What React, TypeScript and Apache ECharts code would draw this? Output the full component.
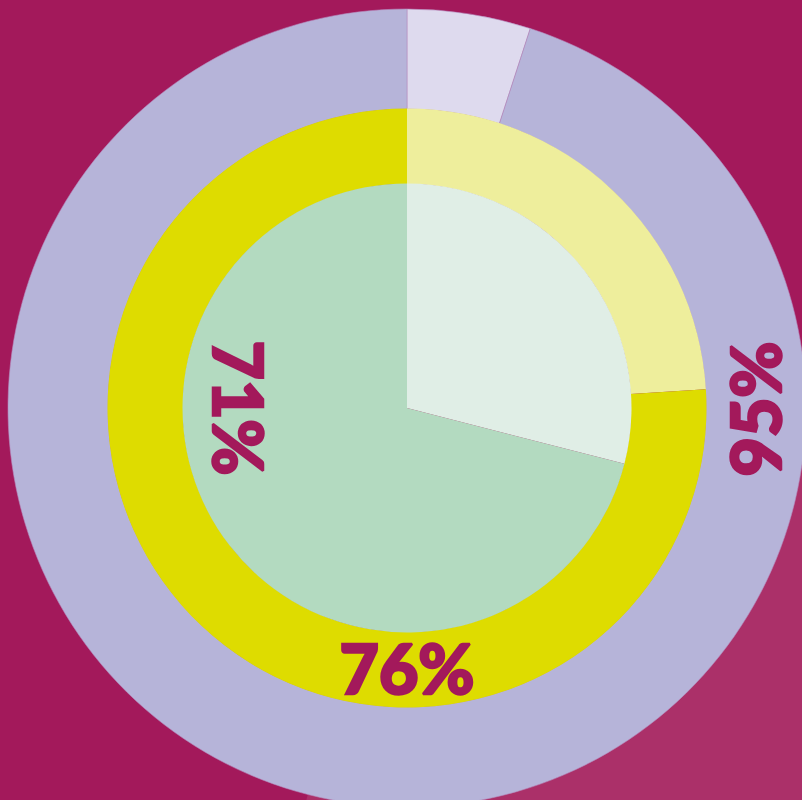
import React, { useEffect, useRef } from "react";
import * as echarts from "echarts";

const outerValues = [5, 95];
const outerColors = ["#DEDAEE", "#B6B4D9"];
const middleValues = [24, 76];
const middleColors = ["#EEEE9C", "#DEDC00"];
const innerValues = [29, 71];
const innerColors = ["#E0EEE6", "#B3DAC0"];
const backValues = [29, 71];
const labels = ["95%", "76%", "71%"];

const BG = "#A3195B";
const TEXT = "#A3195B";

export default function App() {
  const ref = useRef<HTMLDivElement>(null);
  useEffect(() => {
    if (!ref.current) return;
    const chart = echarts.init(ref.current, undefined, { renderer: "svg" });
    const center = [407, 408];
    const mk = (vals: number[], cols: string[]) =>
      vals.map((v, i) => ({ value: v, itemStyle: { color: cols[i] } }));
    const textStyle = (t: string) => ({
      text: t,
      fill: TEXT,
      stroke: TEXT,
      lineWidth: 2.5,
      font: '900 68px "Lato", "DejaVu Sans", sans-serif',
      align: "center",
      verticalAlign: "middle",
    });
    chart.setOption({
      animation: false,
      backgroundColor: BG,
      series: [
        {
          type: "pie",
          silent: true,
          center,
          radius: [0, 800],
          startAngle: 0,
          clockwise: true,
          label: { show: false },
          labelLine: { show: false },
          z: 1,
          data: [
            { value: backValues[0], itemStyle: { color: "#AB3069" } },
            { value: backValues[1], itemStyle: { color: "rgba(0,0,0,0)" } },
          ],
        },
        {
          type: "pie",
          silent: true,
          center,
          radius: [299, 399],
          startAngle: 90,
          clockwise: true,
          label: { show: false },
          labelLine: { show: false },
          itemStyle: { borderColor: "#B58DC0", borderWidth: 0.6 },
          z: 2,
          data: mk(outerValues, outerColors),
        },
        {
          type: "pie",
          silent: true,
          center,
          radius: [224, 299.5],
          startAngle: 90,
          clockwise: true,
          label: { show: false },
          labelLine: { show: false },
          z: 3,
          data: mk(middleValues, middleColors),
        },
        {
          type: "pie",
          silent: true,
          center,
          radius: [0, 224.5],
          startAngle: 90,
          clockwise: true,
          label: { show: false },
          labelLine: { show: false },
          z: 4,
          data: mk(innerValues, innerColors),
        },
      ],
      graphic: [
        {
          type: "text",
          x: 754,
          y: 409,
          rotation: Math.PI / 2,
          z: 10,
          style: textStyle(labels[0]),
        },
        {
          type: "text",
          x: 407,
          y: 667,
          z: 10,
          style: textStyle(labels[1]),
        },
        {
          type: "text",
          x: 239,
          y: 408,
          rotation: -Math.PI / 2,
          z: 10,
          style: textStyle(labels[2]),
        },
      ],
    });
    return () => chart.dispose();
  }, []);
  return (
    <div
      ref={ref}
      style={{ position: "absolute", left: 0, top: 0, width: 802, height: 800 }}
    />
  );
}
